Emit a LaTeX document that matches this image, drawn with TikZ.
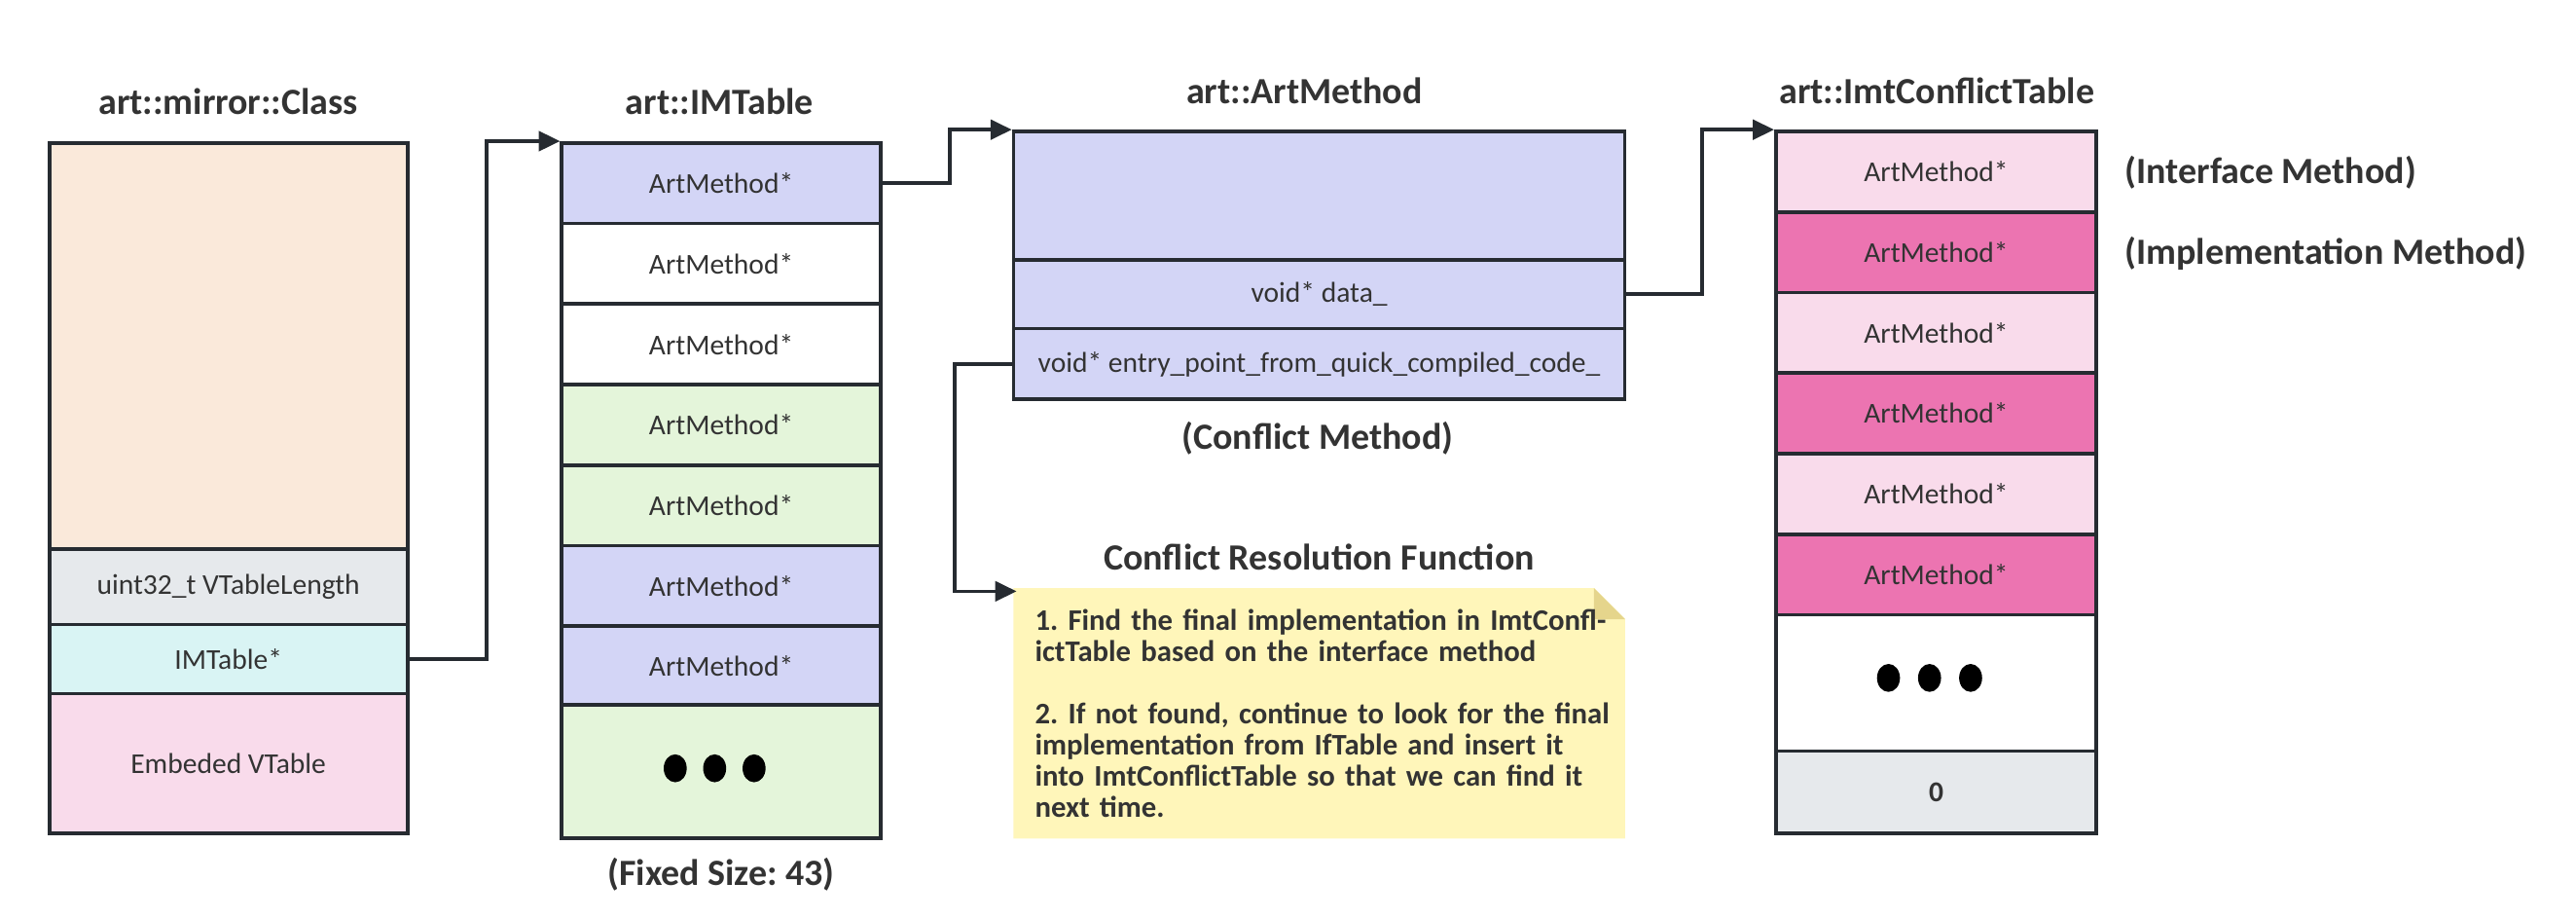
\documentclass[tikz,border=0pt]{standalone}
\usepackage{fontspec}
\setmainfont{Carlito}
\usetikzlibrary{positioning,calc,arrows.meta,backgrounds}

\definecolor{linec}{HTML}{262B31}
\definecolor{txtc}{HTML}{333333}
\definecolor{peach}{HTML}{FAE9DA}
\definecolor{slate}{HTML}{E6E9EC}
\definecolor{aqua}{HTML}{D9F4F4}
\definecolor{blush}{HTML}{F9DBEB}
\definecolor{lav}{HTML}{D3D5F6}
\definecolor{mint}{HTML}{E4F5DA}
\definecolor{rose}{HTML}{EC74B1}
\definecolor{notec}{HTML}{FFF6BA}
\definecolor{foldc}{HTML}{E5D58C}

\begin{document}
\frenchspacing
\begin{tikzpicture}[x=1pt, y=-1pt, >={Triangle[length=13pt,width=12pt]},
    every node/.style={text=txtc},
    cell/.style={draw=linec, line width=2.2pt, inner sep=0pt, minimum height=49pt, font=\fontsize{17.5}{21}\selectfont},
    title/.style={font=\bfseries\fontsize{22.5}{26}\selectfont},
    link/.style={draw=linec, line width=2.2pt, ->}]
    \useasboundingbox (0,0) rectangle (1568,559);
    % mirror::Class
    \node[title] (clsT) at (139,62) {art::mirror::Class};
    \node[cell, fill=peach, minimum width=218pt, minimum height=247pt] (cls1) at (139,210.5) {};
    \node[cell, fill=slate, minimum width=218pt, minimum height=46pt] (cls2) at (139,357) {uint32\_t VTableLength};
    \node[cell, fill=aqua, minimum width=218pt, minimum height=42pt] (cls3) at (139,401) {IMTable*};
    \node[cell, fill=blush, minimum width=218pt, minimum height=85pt] (cls4) at (139,464.5) {Embeded VTable};
    % IMTable
    \node[title] (imT) at (438,62) {art::IMTable};
    \foreach \i/\c in {1/lav,2/white,3/white,4/mint,5/mint,6/lav,7/lav}
      \node[cell, fill=\c, minimum width=194pt] (im\i) at (439,{111.5+49*(\i-1)}) {ArtMethod*};
    \node[cell, fill=mint, minimum width=194pt, minimum height=81pt] (im8) at (439,469.5) {};
    \foreach \d in {-28,-4,20}
      \fill[black] ($(im8.center)+(\d,-2)$) ellipse [x radius=7pt, y radius=8.5pt];
    \node[title] (fixed) at (439,532) {(Fixed Size: 43)};
    % ArtMethod
    \node[title] (amT) at (794,55) {art::ArtMethod};
    \node[cell, fill=lav, minimum width=372pt, minimum height=78pt] (am1) at (803,119) {};
    \node[cell, fill=lav, minimum width=372pt, minimum height=42pt] (am2) at (803,179) {void* data\_};
    \node[cell, fill=lav, minimum width=372pt, minimum height=43pt] (am3) at (803,221.5) {void* entry\_point\_from\_quick\_compiled\_code\_};
    \node[title] (cm) at (802,267) {(Conflict Method)};
    % ImtConflictTable
    \node[title] (icT) at (1179,55) {art::ImtConflictTable};
    \foreach \i/\c in {1/blush,2/rose,3/blush,4/rose,5/blush,6/rose}
      \node[cell, fill=\c, minimum width=195pt] (ic\i) at (1178.5,{104.5+49*(\i-1)}) {ArtMethod*};
    \node[cell, fill=white, minimum width=195pt, minimum height=83pt] (ic7) at (1178.5,415.5) {};
    \foreach \d in {-29,-4,21}
      \fill[black] ($(ic7.center)+(\d,-3)$) ellipse [x radius=7pt, y radius=8.5pt];
    \node[cell, fill=slate, minimum width=195pt, minimum height=50pt, font=\bfseries\fontsize{17.5}{21}\selectfont] (ic8) at (1178.5,482) {0};
    \node[title, anchor=west] (ifm) at (1290,105) {(Interface Method)};
    \node[title, anchor=west] (impm) at (1290,154) {(Implementation Method)};
    % resolution note
    \node[title] (crf) at (803,339) {Conflict Resolution Function};
    \node[inner sep=0pt, minimum width=372pt, minimum height=152pt, text width=350pt, align=left,
      font=\bfseries\fontsize{18.2}{19}\selectfont] (note) at (805,434)
      {1. Find the final implementation in ImtConfl-\\ictTable based on the interface method\\[19pt]
       2. If not found, continue to look for the final\\implementation from IfTable and insert it\\
       into ImtConflictTable so that we can find it\\next time.};
    \begin{scope}[on background layer]
      \fill[notec] ($(note.north west)+(-2,0)$) -- ($(note.north east)+(-21,0)$) -- ($(note.north east)+(-2,19)$)
        -- ($(note.south east)+(-2,0)$) -- ($(note.south west)+(-2,0)$) -- cycle;
      \fill[foldc] ($(note.north east)+(-21,0)$) -- ($(note.north east)+(-2,19)$) -- ($(note.north east)+(-21,19)$) -- cycle;
    \end{scope}
    % pointers
    \draw[link] (cls3.east) -- ++(47,0) |- (im1.north west);
    \draw[link] (im1.east) -- ++(41,0) |- (am1.north west);
    \draw[link] (am2.east) -- ++(46,0) |- (ic1.north west);
    \draw[link] (am3.west) -- ++(-35,0) |- ($(note.north west)+(0,2)$);
\end{tikzpicture}
\end{document}
